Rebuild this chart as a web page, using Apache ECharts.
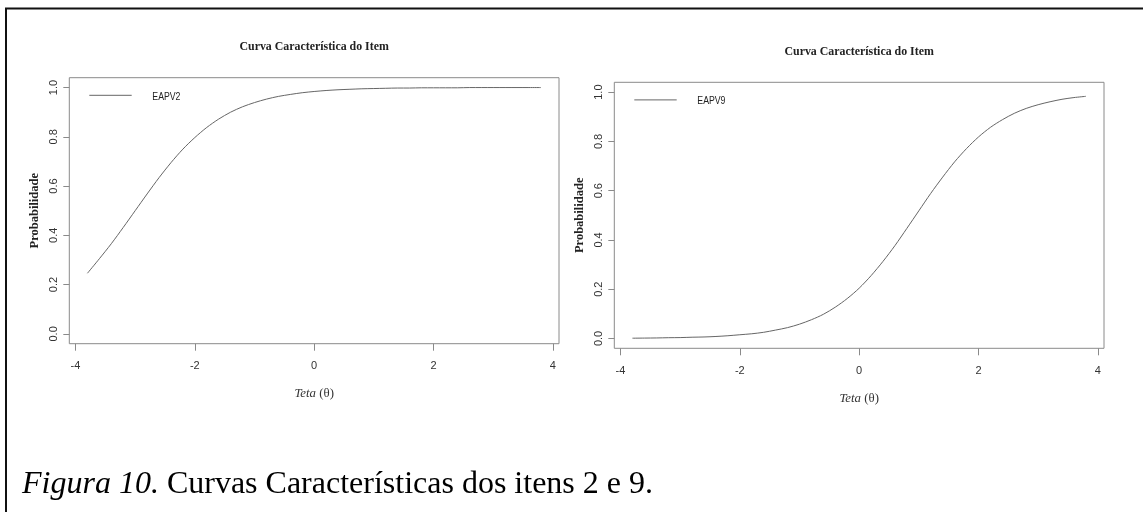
<!DOCTYPE html>
<html>
<head>
<meta charset="utf-8">
<script src="https://cdn.jsdelivr.net/npm/echarts@6/dist/echarts.min.js"></script>
<style>
html,body{margin:0;padding:0;background:#fff;}
#chart{width:1143px;height:512px;}
</style>
</head>
<body>
<div id="chart"></div>
<script>
// ---- data ----
const theta = [-3.8,-3.6,-3.4,-3.2,-3.0,-2.8,-2.6,-2.4,-2.2,-2.0,-1.8,-1.6,-1.4,-1.2,-1.0,-0.8,-0.6,-0.4,-0.2,0.0,
               0.2,0.4,0.6,0.8,1.0,1.2,1.4,1.6,1.8,2.0,2.2,2.4,2.6,2.8,3.0,3.2,3.4,3.6,3.8];
const eapv2 = [0.246,0.305,0.366,0.432,0.500,0.568,0.634,0.695,0.750,0.797,0.838,0.872,0.900,0.922,0.939,0.953,0.964,0.972,0.979,0.984,
               0.988,0.991,0.993,0.995,0.996,0.997,0.998,0.998,0.999,0.999,0.999,0.999,1.000,1.000,1.000,1.000,1.000,1.000,1.000];
const eapv9 = [0.001,0.0015,0.002,0.003,0.0035,0.005,0.006,0.008,0.011,0.015,0.019,0.025,0.034,0.044,0.058,0.076,0.098,0.127,0.162,0.204,
               0.255,0.313,0.377,0.447,0.518,0.589,0.655,0.717,0.771,0.818,0.857,0.888,0.914,0.934,0.949,0.961,0.971,0.978,0.983];
const xTicks = [-4,-2,0,2,4];
const yTicks = [0,0.2,0.4,0.6,0.8,1.0];
const seriesNames = ['EAPV2','EAPV9'];
const chartTitle = 'Curva Característica do Item';
const yTitle = 'Probabilidade';
const caption = 'Curvas Características dos itens 2 e 9.';
const captionLead = 'Figura 10.';

// ---- layout ----
const panels = [
  {left:69.3, top:77.7, values:eapv2},
  {left:614.3, top:82.3, values:eapv9}
];
const PW = 489.7, PH = 266;
const boxColor = '#8a8a8a';
const textColor = '#333';

const grids = [], xAxes = [], yAxes = [], series = [], graphics = [];
panels.forEach((p, i) => {
  grids.push({left:p.left, top:p.top, width:PW, height:PH, show:true, borderColor:boxColor, borderWidth:1, backgroundColor:'transparent'});
  xAxes.push({
    type:'value', gridIndex:i, min:-4.104, max:4.104, position:'bottom',
    axisLine:{show:false, onZero:false},
    axisTick:{show:true, inside:false, length:7, customValues:xTicks, lineStyle:{color:boxColor}},
    axisLabel:{customValues:xTicks, fontSize:11, margin:17, color:textColor, fontFamily:'Liberation Sans',
               formatter:v => String(Math.round(v))},
    splitLine:{show:false}
  });
  yAxes.push({
    type:'value', gridIndex:i, min:-0.04, max:1.04, position:'left',
    axisLine:{show:false, onZero:false},
    axisTick:{show:true, inside:false, length:6, customValues:yTicks, lineStyle:{color:boxColor}},
    axisLabel:{customValues:yTicks, rotate:90, fontSize:11, margin:10, color:textColor, fontFamily:'Liberation Sans',
               formatter:v => v.toFixed(1)},
    splitLine:{show:false},
    name:yTitle, nameLocation:'middle', nameGap:28,
    nameTextStyle:{fontFamily:'Liberation Serif', fontWeight:'bold', fontSize:12.5, color:'#222'}
  });
  series.push({
    type:'line', name:seriesNames[i], xAxisIndex:i, yAxisIndex:i,
    data: theta.map((t, k) => [t, p.values[k]]),
    showSymbol:false, smooth:0.3,
    lineStyle:{color:'#666', width:1}
  });
  const cx = p.left + PW/2;
  // chart title
  graphics.push({type:'text', x:cx, y:p.top - 30.5, scaleX:0.95,
    style:{text:chartTitle, font:'bold 12.5px "Liberation Serif"', fill:'#222', textAlign:'center', textVerticalAlign:'middle'}});
  // x axis title
  graphics.push({type:'text', x:cx, y:p.top + 316, scaleX:0.95,
    style:{text:'{i|Teta }{n|(θ)}', textAlign:'center', textVerticalAlign:'middle',
      rich:{i:{font:'italic 13.5px "Liberation Serif"', fill:'#333'}, n:{font:'13.5px "Liberation Serif"', fill:'#333'}}}});
  // legend (no box)
  graphics.push({type:'line', shape:{x1:p.left+20, y1:p.top+17.6, x2:p.left+62.4, y2:p.top+17.6},
    style:{stroke:'#666', lineWidth:1}});
  graphics.push({type:'text', x:p.left+83, y:p.top+19, scaleX:0.76,
    style:{text:seriesNames[i], font:'11.5px "Liberation Sans"', fill:'#222', textAlign:'left', textVerticalAlign:'middle'}});
});

// outer frame (top and left rules)
graphics.push({type:'line', shape:{x1:5, y1:8.5, x2:1143, y2:8.5}, style:{stroke:'#111', lineWidth:2}});
graphics.push({type:'line', shape:{x1:6, y1:8, x2:6, y2:512}, style:{stroke:'#111', lineWidth:2}});
// caption
graphics.push({type:'text', x:22, y:485,
  style:{text:'{i|' + captionLead + '}{n| ' + caption + '}', textAlign:'left', textVerticalAlign:'middle',
    rich:{i:{font:'italic 32px "Liberation Serif"', fill:'#000'}, n:{font:'32px "Liberation Serif"', fill:'#000'}}}});

const chart = echarts.init(document.getElementById('chart'), null, {renderer:'canvas'});
chart.setOption({
  animation:false,
  backgroundColor:'#fff',
  grid:grids, xAxis:xAxes, yAxis:yAxes, series:series,
  graphic:{elements:graphics}
});
</script>
</body>
</html>
